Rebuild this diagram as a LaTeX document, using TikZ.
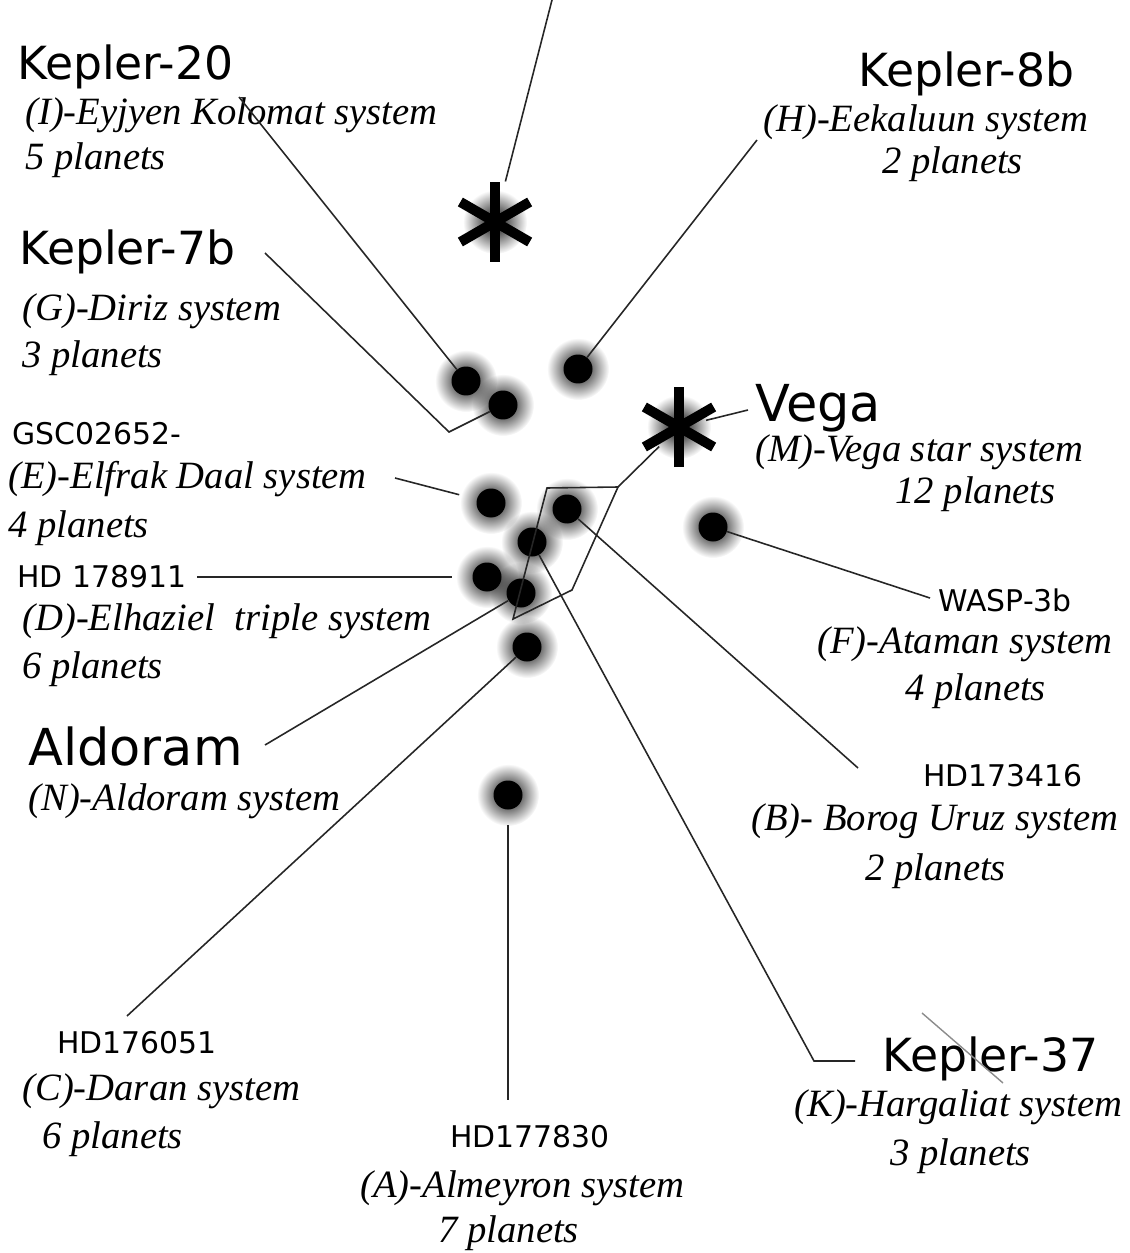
\documentclass[tikz,border=0pt]{standalone}
\usepackage{fontspec}
\usetikzlibrary{calc,fadings,backgrounds}
\newfontfamily\namefont{DejaVu Sans}
\newfontfamily\sysfont{Liberation Serif}
\tikzfading[name=glowfade, inner color=transparent!0, outer color=transparent!100]

\begin{document}
\begin{tikzpicture}[x=0.02cm, y=-0.02cm,
    dot/.style={circle, fill=black, inner sep=0pt, minimum size=0.58cm},
    starnode/.style={circle, inner sep=0pt, minimum size=1.1cm},
    arm/.style={line width=0.2cm},
    link/.style={draw=black!85, line width=0.9pt},
    bignm/.style={font=\namefont\fontsize{26}{30}\selectfont, inner sep=0pt, anchor=base west},
    hugenm/.style={font=\namefont\fontsize{29}{34}\selectfont, inner sep=0pt, anchor=base west},
    smnm/.style={font=\namefont\fontsize{17}{20}\selectfont, inner sep=0pt, anchor=base west},
    sys/.style={font=\sysfont\itshape\fontsize{22}{26}\selectfont, inner sep=0pt, anchor=base west}]
  \useasboundingbox (0,0) rectangle (1129,1253);

  % stars and planets
  \node[dot] (dI) at (466,381) {};
  \node[dot] (dG) at (503,405) {};
  \node[dot] (dH) at (578,369) {};
  \node[dot] (dE) at (491,503) {};
  \node[dot] (dB) at (567,509) {};
  \node[dot] (dK) at (532,542) {};
  \node[dot] (dD) at (487,577) {};
  \node[dot] (dN) at (521,593) {};
  \node[dot] (dC) at (527,647) {};
  \node[dot] (dF) at (713,527) {};
  \node[dot] (dA) at (508,795) {};
  \node[starnode] (sT) at (495,222) {};
  \node[starnode] (sM) at (679,427) {};
  \foreach \s in {sT,sM}
    \foreach \a in {90,30,-30}
      \draw[arm] ($(\s)+(\a:40)$) -- ($(\s)+(\a+180:40)$);
  \begin{scope}[on background layer]
    \foreach \d in {dI,dG,dH,dE,dB,dK,dD,dN,dC,dF,dA}
      \fill[black, path fading=glowfade] (\d) circle (31);
    \foreach \d in {sT,sM}
      \fill[black, path fading=glowfade] (\d) circle (32);
  \end{scope}

  % labels
  \node[bignm] (nI) at (17,80) {Kepler-20};
  \node[sys] (tI) at (25,125) {(I)-Eyjyen Kolomat system};
  \node[sys] (pI) at (25,170) {5 planets};
  \node[bignm] (nG) at (19,265) {Kepler-7b};
  \node[sys] (tG) at (22,320) {(G)-Diriz system};
  \node[sys] (pG) at (22,367) {3 planets};
  \node[smnm] (nE) at (12,444) {GSC02652-};
  \node[sys] (tE) at (8,488) {(E)-Elfrak Daal system};
  \node[sys] (pE) at (8,537) {4 planets};
  \node[smnm] (nD) at (17,587) {HD 178911};
  \node[sys] (tD) at (22,630) {(D)-Elhaziel\ \ triple system};
  \node[sys] (pD) at (22,678) {6 planets};
  \node[hugenm] (nN) at (28,765) {Aldoram};
  \node[sys] (tN) at (28,810) {(N)-Aldoram system};
  \node[smnm] (nC) at (57,1053) {HD176051};
  \node[sys] (tC) at (22,1100) {(C)-Daran system};
  \node[sys] (pC) at (42,1148) {6 planets};
  \node[smnm] (nA) at (450,1147) {HD177830};
  \node[sys] (tA) at (360,1197) {(A)-Almeyron system};
  \node[sys] (pA) at (438,1242) {7 planets};
  \node[bignm] (nH) at (858,87) {Kepler-8b};
  \node[sys] (tH) at (763,132) {(H)-Eekaluun system};
  \node[sys] (pH) at (882,174) {2 planets};
  \node[hugenm] (nM) at (755,421) {Vega};
  \node[sys] (tM) at (755,461) {(M)-Vega star system};
  \node[sys] (pM) at (895,503) {12 planets};
  \node[smnm] (nF) at (938,611) {WASP-3b};
  \node[sys] (tF) at (817,653) {(F)-Ataman system};
  \node[sys] (pF) at (905,700) {4 planets};
  \node[smnm] (nB) at (923,786) {HD173416};
  \node[sys] (tB) at (751,830) {(B)- Borog Uruz system};
  \node[sys] (pB) at (865,880) {2 planets};
  \node[bignm] (nK) at (882,1071) {Kepler-37};
  \node[sys] (tK) at (794,1116) {(K)-Hargaliat system};
  \node[sys] (pK) at (890,1165) {3 planets};

  % connector ends
  \coordinate (eI) at (239,97);
  \coordinate (eG) at (265,253);
  \coordinate (bG) at (449,432);
  \coordinate (eH) at (757,140);
  \coordinate (eT) at (552,0);
  \coordinate (eM) at (748,410);
  \coordinate (eE) at (395,478);
  \coordinate (eD) at (197,577);
  \coordinate (eN) at (265,745);
  \coordinate (eF) at (930,598);
  \coordinate (eB) at (858,768);
  \coordinate (bK) at (814,1061);
  \coordinate (eK) at (855,1061);
  \coordinate (eC) at (127,1016);
  \coordinate (eA) at (508,1100);
  \coordinate (q1) at (618,487);
  \coordinate (q2) at (547,488);
  \coordinate (q3) at (513,619);
  \coordinate (q4) at (572,590);
  \coordinate (x1) at (922,1013);
  \coordinate (x2) at (1003,1083);

  \draw[link] (eI) -- (dI);
  \draw[link] (eG) -- (bG) -- (dG);
  \draw[link] (eH) -- (dH);
  \draw[link, shorten <=0.28cm] (sT) -- (eT);
  \draw[link] (eM) -- (sM);
  \draw[link, shorten >=0.36cm] (eE) -- (dE);
  \draw[link, shorten >=0.4cm] (eD) -- (dD);
  \draw[link] (eN) -- (dN);
  \draw[link] (dF) -- (eF);
  \draw[link] (dB) -- (eB);
  \draw[link] (dK) -- (bK) -- (eK);
  \draw[link] (eC) -- (dC);
  \draw[link, shorten <=0.3cm] (dA) -- (eA);
  \draw[link] (q1) -- (q2) -- (q3) -- (q4) -- cycle;
  \draw[link] (q1) -- (sM);
  \draw[black!45, line width=0.8pt] (x1) -- (x2);
\end{tikzpicture}
\end{document}
